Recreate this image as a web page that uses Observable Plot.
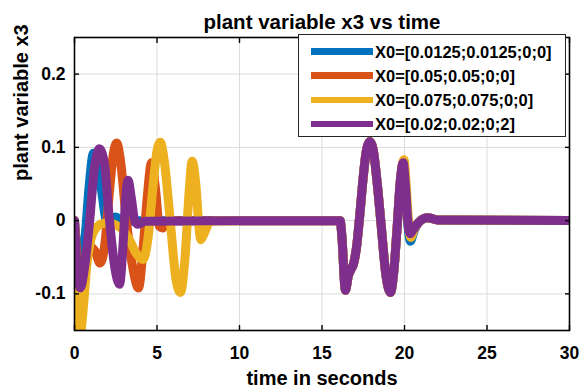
<!DOCTYPE html>
<html>
<head>
<meta charset="utf-8">
<script src="https://cdn.jsdelivr.net/npm/d3@7"></script>
<script src="https://cdn.jsdelivr.net/npm/@observablehq/plot@0.6"></script>
<style>
  html, body { margin: 0; padding: 0; background: #fff; }
  #wrap { position: relative; width: 584px; height: 392px; font-family: "Liberation Sans", Arial, sans-serif; }
  #legend { position: absolute; left: 298px; top: 34px; width: 268px; height: 103px; background: #fff;
            border: 1px solid #262626; box-sizing: border-box; }
  .row { position: absolute; left: 0; height: 24px; display: flex; align-items: center; }
  .sw { position: absolute; left: 12px; width: 62px; height: 6.5px; }
  .lt { position: absolute; left: 76px; font-weight: bold; font-size: 16.5px; color: #000; white-space: nowrap; line-height: 1; }
</style>
</head>
<body>
<div id="wrap"></div>
<script>
// ---- data ----
const titleText = "plant variable x3 vs time";
const xLabel = "time in seconds";
const yLabel = "plant variable x3";
const xTicks = [0, 5, 10, 15, 20, 25, 30];
const yTicks = [-0.1, 0, 0.1, 0.2];
const yTickLabels = ["-0.1", "0", "0.1", "0.2"];
const seriesNames = ["X0=[0.0125;0.0125;0;0]", "X0=[0.05;0.05;0;0]", "X0=[0.075;0.075;0;0]", "X0=[0.02;0.02;0;2]"];
const seriesColors = ["#0072BD", "#D95319", "#EDB120", "#7E2F8E"];

// series 1 (blue)
const t1 = [0, 0.15, 0.4, 0.65, 0.9, 1.15, 1.4, 1.65, 1.95, 2.2, 2.5, 2.8, 3.3, 4, 10, 16.1, 16.2, 16.42, 16.6, 16.75, 16.9, 17.1, 17.3, 17.5, 17.7, 17.9, 18.1, 18.35, 18.6, 18.85, 19.15, 19.35, 19.55, 19.75, 19.92, 20.05, 20.2, 20.36, 20.55, 20.8, 21.1, 21.4, 22, 30];
const v1 = [0, -0.04, -0.065, -0.02, 0.05, 0.092, 0.08, 0.04, 0.0, 0.003, 0.005, 0.001, -0.001, 0, 0, 0, -0.02, -0.095, -0.075, -0.067, -0.06, -0.035, 0.01, 0.06, 0.097, 0.108, 0.097, 0.05, -0.01, -0.07, -0.098, -0.07, -0.01, 0.055, 0.077, 0.045, -0.005, -0.028, -0.016, -0.004, 0.002, 0.004, 0.001, 0];
// series 2 (orange)
const t2 = [0, 0.15, 0.4, 0.7, 1.0, 1.25, 1.55, 1.85, 2.1, 2.35, 2.55, 2.8, 3.1, 3.5, 3.88, 4.15, 4.4, 4.67, 4.9, 5.15, 5.35, 5.6, 6, 10, 16.1, 16.2, 16.42, 16.6, 16.75, 16.9, 17.1, 17.3, 17.5, 17.7, 17.9, 18.1, 18.35, 18.6, 18.85, 19.15, 19.35, 19.55, 19.75, 19.92, 20.05, 20.2, 20.34, 20.5, 20.8, 21.1, 21.4, 22, 30];
const v2 = [0, -0.045, -0.075, -0.055, -0.036, -0.042, -0.058, -0.03, 0.035, 0.09, 0.106, 0.08, 0.01, -0.06, -0.092, -0.04, 0.03, 0.079, 0.045, -0.008, -0.01, -0.002, 0, 0, 0, -0.02, -0.095, -0.075, -0.067, -0.06, -0.035, 0.01, 0.06, 0.097, 0.108, 0.097, 0.05, -0.01, -0.07, -0.098, -0.07, -0.01, 0.055, 0.079, 0.05, 0.0, -0.018, -0.013, -0.004, 0.002, 0.004, 0.001, 0];
// series 3 (yellow)
const t3 = [0, 0.07, 0.17, 0.27, 0.4, 0.55, 0.75, 1.0, 1.3, 1.7, 2.1, 2.5, 2.9, 3.3, 3.75, 4.15, 4.45, 4.75, 5.0, 5.2, 5.45, 5.8, 6.15, 6.42, 6.7, 6.95, 7.13, 7.35, 7.55, 7.65, 7.85, 8.2, 8.6, 10, 16.1, 16.2, 16.42, 16.6, 16.75, 16.9, 17.1, 17.3, 17.5, 17.7, 17.9, 18.1, 18.35, 18.6, 18.85, 19.15, 19.35, 19.55, 19.78, 19.97, 20.1, 20.24, 20.38, 20.55, 20.8, 21.1, 21.4, 22, 30];
const v3 = [0, -0.08, -0.145, -0.165, -0.15, -0.115, -0.06, -0.025, -0.01, -0.004, -0.003, -0.006, -0.012, -0.025, -0.045, -0.053, -0.025, 0.045, 0.095, 0.107, 0.08, 0.0, -0.08, -0.098, -0.05, 0.04, 0.081, 0.05, -0.01, -0.026, -0.018, -0.002, 0, 0, 0, -0.02, -0.095, -0.075, -0.067, -0.06, -0.035, 0.01, 0.06, 0.097, 0.108, 0.097, 0.05, -0.01, -0.07, -0.098, -0.07, -0.01, 0.06, 0.083, 0.05, 0.0, -0.023, -0.014, -0.004, 0.002, 0.004, 0.001, 0];
// series 4 (purple)
const t4 = [0, 0.12, 0.35, 0.6, 0.9, 1.2, 1.5, 1.8, 2.1, 2.45, 2.73, 2.95, 3.1, 3.25, 3.45, 3.65, 3.85, 4.3, 10, 16.1, 16.2, 16.42, 16.6, 16.75, 16.9, 17.1, 17.3, 17.5, 17.7, 17.9, 18.1, 18.35, 18.6, 18.85, 19.15, 19.35, 19.55, 19.75, 19.92, 20.05, 20.2, 20.34, 20.5, 20.8, 21.1, 21.4, 22, 30];
const v4 = [0, -0.05, -0.092, -0.065, -0.005, 0.07, 0.098, 0.08, 0.005, -0.065, -0.087, -0.03, 0.03, 0.055, 0.03, 0.0, -0.005, -0.001, 0, 0, -0.02, -0.095, -0.075, -0.067, -0.06, -0.035, 0.01, 0.06, 0.097, 0.108, 0.097, 0.05, -0.01, -0.07, -0.098, -0.07, -0.01, 0.055, 0.079, 0.05, 0.0, -0.018, -0.013, -0.004, 0.002, 0.004, 0.001, 0];

const seriesT = [t1, t2, t3, t4];
const seriesV = [v1, v2, v3, v4];

// ---- chart ----
const font = "Liberation Sans, Arial, sans-serif";
const lineMarks = seriesT.map((ts, k) =>
  Plot.line(ts.map((t, i) => ({t, v: seriesV[k][i]})), {
    x: "t", y: "v", stroke: seriesColors[k], strokeWidth: 9,
    curve: "monotone-x", clip: true, strokeLinejoin: "round"
  })
);

const chart = Plot.plot({
  width: 584, height: 392,
  marginLeft: 74, marginRight: 15, marginTop: 37, marginBottom: 62,
  style: {fontFamily: font, fontWeight: "bold", color: "#000", background: "#fff"},
  x: {domain: [0, 30]},
  y: {domain: [-0.15, 0.25]},
  marks: [
    Plot.gridX(xTicks, {stroke: "#dcdcdc", strokeOpacity: 1, strokeWidth: 1}),
    Plot.gridY(yTicks, {stroke: "#dcdcdc", strokeOpacity: 1, strokeWidth: 1}),
    ...lineMarks,
    Plot.frame({stroke: "#000", strokeWidth: 1.6}),
    Plot.axisX(xTicks, {anchor: "bottom", tickSize: -5, tickFormat: () => "", label: null, strokeWidth: 1.4}),
    Plot.axisX(xTicks, {anchor: "top", tickSize: -5, tickFormat: () => "", label: null, strokeWidth: 1.4}),
    Plot.axisY(yTicks, {anchor: "left", tickSize: -5, tickFormat: () => "", label: null, strokeWidth: 1.4}),
    Plot.axisY(yTicks, {anchor: "right", tickSize: -5, tickFormat: () => "", label: null, strokeWidth: 1.4}),
    Plot.axisX(xTicks, {anchor: "bottom", tickSize: 0, tickPadding: 16, fontSize: 17.5, fontWeight: "bold", label: null}),
    Plot.axisY(yTicks, {anchor: "left", tickSize: 0, tickPadding: 9, fontSize: 17.5, fontWeight: "bold", label: null,
      tickFormat: (d) => yTickLabels[yTicks.indexOf(d)]}),
    Plot.text([xLabel], {frameAnchor: "bottom", dy: 54, fontSize: 20, fontWeight: "bold", fill: "#000"}),
    Plot.text([yLabel], {frameAnchor: "left", dx: -53, dy: -3, rotate: -90, fontSize: 20, fontWeight: "bold", fill: "#000"}),
    Plot.text([titleText], {frameAnchor: "top", dy: -23, fontSize: 20.5, fontWeight: "bold", fill: "#000"})
  ]
});

const wrap = document.getElementById("wrap");
wrap.appendChild(chart);

// ---- legend ----
const legend = document.createElement("div");
legend.id = "legend";
seriesNames.forEach((name, k) => {
  const row = document.createElement("div");
  row.className = "row";
  row.style.top = (4.5 + k * 24.2) + "px";
  const sw = document.createElement("div");
  sw.className = "sw";
  sw.style.background = seriesColors[k];
  sw.style.top = "8.75px";
  const lt = document.createElement("div");
  lt.className = "lt";
  lt.style.top = "4px";
  lt.textContent = name;
  row.appendChild(sw);
  row.appendChild(lt);
  legend.appendChild(row);
});
wrap.appendChild(legend);
</script>
</body>
</html>
